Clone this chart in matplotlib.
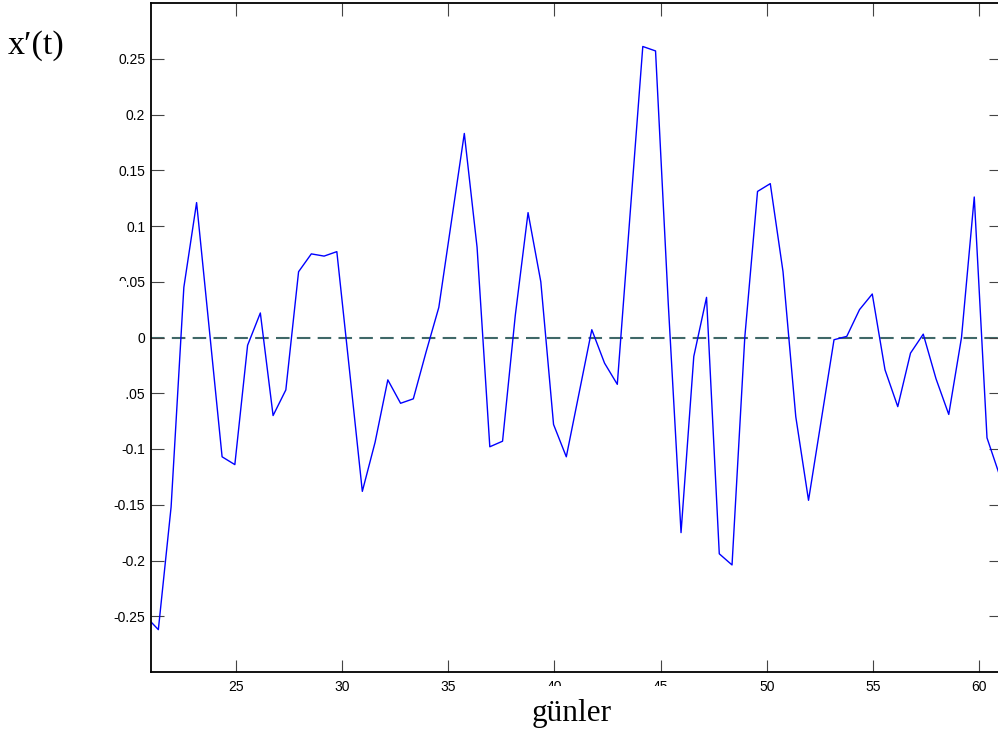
import numpy as np
import matplotlib
matplotlib.use("Agg")
import matplotlib.pyplot as plt
from matplotlib.patches import Rectangle

# first derivative of the series, sampled every 0.6 day
t_start = 20.76
t_step = 0.6
dx = [-0.250, -0.262, -0.152, 0.045, 0.121, 0.007, -0.107, -0.114, -0.007, 0.022,
      -0.070, -0.047, 0.059, 0.075, 0.073, 0.077, -0.030, -0.138, -0.094, -0.038,
      -0.059, -0.055, -0.013, 0.027, 0.105, 0.183, 0.081, -0.098, -0.093, 0.020,
      0.112, 0.050, -0.078, -0.107, -0.050, 0.007, -0.023, -0.042, 0.110, 0.261,
      0.257, 0.030, -0.175, -0.017, 0.036, -0.194, -0.204, 0.000, 0.131, 0.138,
      0.059, -0.071, -0.146, -0.074, -0.002, 0.001, 0.025, 0.039, -0.029, -0.062,
      -0.014, 0.003, -0.037, -0.069, 0.000, 0.126, -0.090, -0.124]
days = t_start + t_step * np.arange(len(dx))

xticks = [25, 30, 35, 40, 45, 50, 55, 60]
yticks = [0.25, 0.2, 0.15, 0.1, 0.05, 0, -0.05, -0.1, -0.15, -0.2, -0.25]
ytick_labels = ['0.25', '0.2', '0.15', '0.1', '0.05', '0', '-0.05', '-0.1',
                '-0.15', '-0.2', '-0.25']

plt.rcParams['axes.unicode_minus'] = False
plt.rcParams['font.family'] = ['Liberation Sans', 'DejaVu Sans']

W, H = 998, 739
fig = plt.figure(figsize=(W / 100, H / 100), dpi=100)
ax = fig.add_axes([150.7 / W, 1 - 672 / H, (1000.6 - 150.7) / W, (672 - 3) / H])

ax.axhline(0, color='#3f6868', lw=1.5, ls=(0, (6.5, 3.5)), zorder=1)
ax.plot(days, dx, color='#0000ff', lw=1.0, zorder=2)

ax.set_xlim(21, 61)
ax.set_ylim(-0.3, 0.3)
ax.set_xticks(xticks)
ax.set_xticklabels([str(v) for v in xticks])
ax.set_yticks(yticks)
ax.set_yticklabels(ytick_labels)
ax.tick_params(direction='in', length=9, width=0.8, labelsize=10,
               top=True, right=True, color='#444444')
ax.tick_params(axis='x', pad=6)
ax.tick_params(axis='y', pad=4)
for s in ax.spines.values():
    s.set_linewidth(1.3)

# white boxes left over from the page layout
fig.patches.append(Rectangle((0, 1 - 410 / H), 126 / W, 129 / H,
                             transform=fig.transFigure, fc='white', ec='none',
                             zorder=5))
fig.patches.append(Rectangle((480 / W, 0), 220 / W, 1 - 686 / H,
                             transform=fig.transFigure, fc='white', ec='none',
                             zorder=5))

serif = ['Liberation Serif', 'DejaVu Serif']
fig.text(8 / W, 1 - 46 / H, 'x\u2032(t)', family=serif, fontsize=24.5,
         ha='left', va='center', zorder=6)
fig.text(572 / W, 1 - 714 / H, 'günler', family=serif, fontsize=22.5,
         ha='center', va='center', zorder=6)

fig.savefig('out.png', dpi=100)
